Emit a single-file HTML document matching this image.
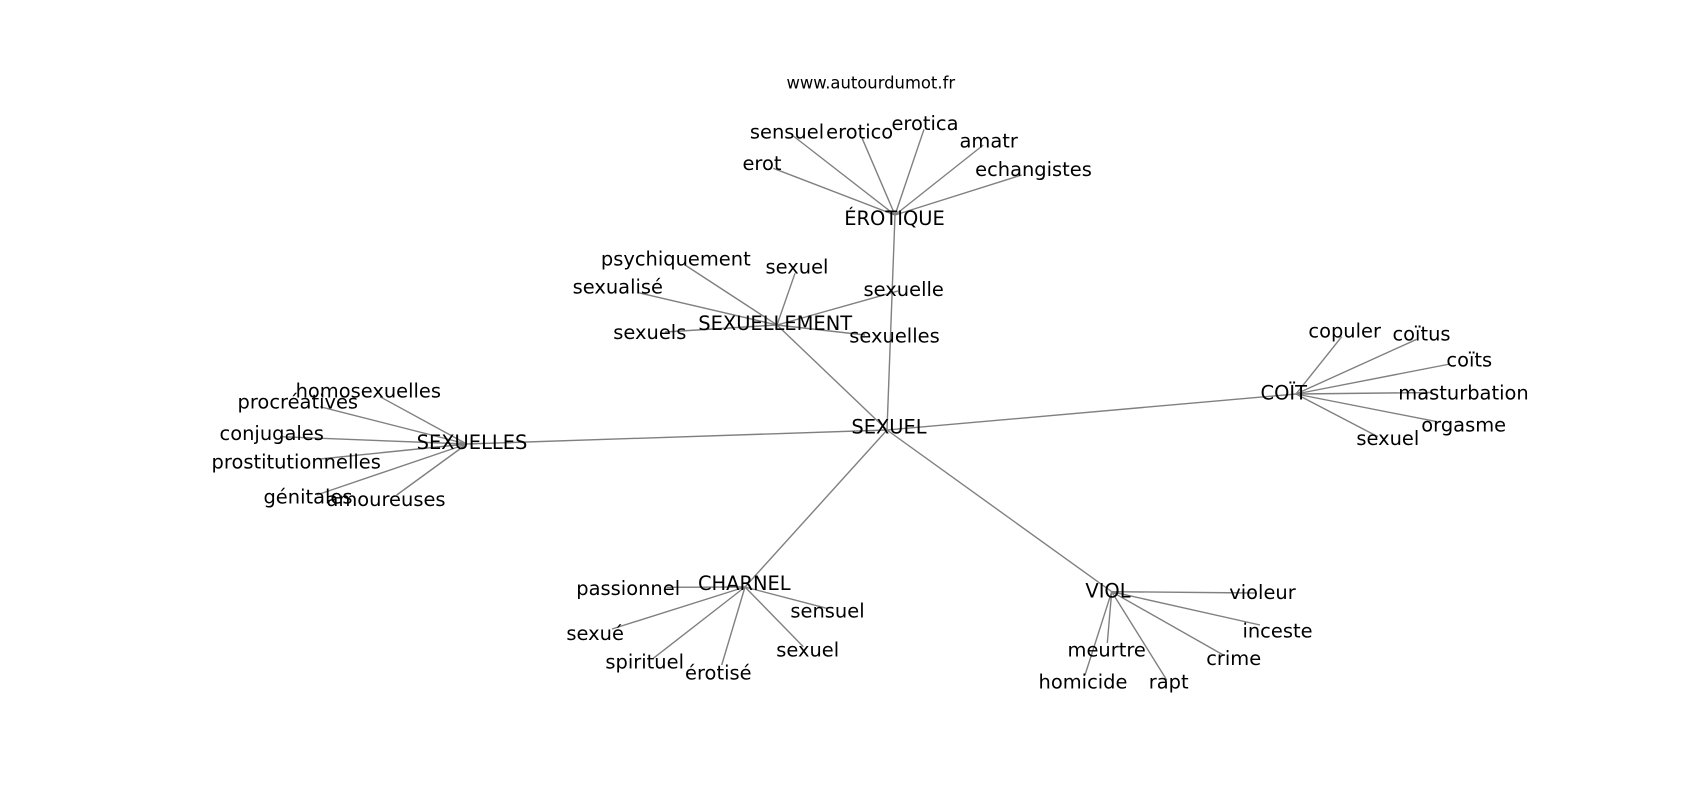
<!DOCTYPE html>
<html>
<head>
<meta charset="utf-8">
<style>
  html, body { margin: 0; padding: 0; background: #ffffff; }
  svg { display: block; }
  text { font-family: "DejaVu Sans", "Liberation Sans", sans-serif; fill: #000; }
  .lbl { font-size: 19.44px; text-anchor: middle; }
  .ttl { font-size: 16.4px; text-anchor: middle; }
  line { stroke: #808080; stroke-width: 1.4; }
</style>
</head>
<body>
<svg width="1700" height="800" viewBox="0 0 1700 800" xmlns="http://www.w3.org/2000/svg">
  <rect x="0" y="0" width="1700" height="800" fill="#ffffff"/>

  <!-- edges -->
  <g>
    <!-- hub edges -->
    <line x1="887" y1="430" x2="895" y2="215"/>
    <line x1="887" y1="430" x2="777" y2="325"/>
    <line x1="887" y1="430" x2="466.7" y2="444"/>
    <line x1="887" y1="430" x2="1296" y2="394"/>
    <line x1="887" y1="430" x2="745" y2="587"/>
    <line x1="887" y1="430" x2="1111.7" y2="591.7"/>

    <!-- ÉROTIQUE -->
    <line x1="895" y1="215" x2="773.3" y2="168.3"/>
    <line x1="895" y1="215" x2="793.3" y2="136"/>
    <line x1="895" y1="215" x2="861.7" y2="137.3"/>
    <line x1="895" y1="215" x2="924" y2="129.3"/>
    <line x1="895" y1="215" x2="983.3" y2="145"/>
    <line x1="895" y1="215" x2="1021.7" y2="175"/>

    <!-- SEXUELLEMENT -->
    <line x1="777" y1="325" x2="685" y2="265"/>
    <line x1="777" y1="325" x2="795" y2="273.3"/>
    <line x1="777" y1="325" x2="638.3" y2="292.7"/>
    <line x1="777" y1="325" x2="665" y2="332"/>
    <line x1="777" y1="325" x2="898" y2="291"/>
    <line x1="777" y1="325" x2="865" y2="335"/>

    <!-- SEXUELLES -->
    <line x1="466.7" y1="444" x2="380" y2="396.7"/>
    <line x1="466.7" y1="444" x2="320" y2="406.7"/>
    <line x1="466.7" y1="444" x2="280" y2="436.7"/>
    <line x1="466.7" y1="444" x2="320" y2="459"/>
    <line x1="466.7" y1="444" x2="316.7" y2="495"/>
    <line x1="466.7" y1="444" x2="396.7" y2="495"/>

    <!-- COÏT -->
    <line x1="1296" y1="394" x2="1341.7" y2="336.7"/>
    <line x1="1296" y1="394" x2="1416.7" y2="339.3"/>
    <line x1="1296" y1="394" x2="1450" y2="364"/>
    <line x1="1296" y1="394" x2="1433" y2="392.5"/>
    <line x1="1296" y1="394" x2="1437" y2="421.7"/>
    <line x1="1296" y1="394" x2="1378" y2="436.7"/>

    <!-- CHARNEL -->
    <line x1="745" y1="587" x2="666.7" y2="587.3"/>
    <line x1="745" y1="587" x2="612" y2="629"/>
    <line x1="745" y1="587" x2="653.3" y2="658.3"/>
    <line x1="745" y1="587" x2="721.7" y2="665"/>
    <line x1="745" y1="587" x2="803.3" y2="646.7"/>
    <line x1="745" y1="587" x2="826.7" y2="608.3"/>

    <!-- VIOL -->
    <line x1="1111.7" y1="591.7" x2="1255" y2="593"/>
    <line x1="1111.7" y1="591.7" x2="1260" y2="625"/>
    <line x1="1111.7" y1="591.7" x2="1223.3" y2="655"/>
    <line x1="1111.7" y1="591.7" x2="1107.3" y2="643"/>
    <line x1="1111.7" y1="591.7" x2="1085" y2="675"/>
    <line x1="1111.7" y1="591.7" x2="1166.7" y2="680"/>
  </g>

  <!-- title -->
  <text class="ttl" x="870.8" y="88.5">www.autourdumot.fr</text>

  <!-- labels -->
  <g>
    <text class="lbl" x="889" y="433.3">SEXUEL</text>

    <text class="lbl" x="894.5" y="225">ÉROTIQUE</text>
    <text class="lbl" x="762" y="170">erot</text>
    <text class="lbl" x="787" y="138.3">sensuel</text>
    <text class="lbl" x="859.7" y="138.3">erotico</text>
    <text class="lbl" x="925" y="130">erotica</text>
    <text class="lbl" x="988.7" y="147.3">amatr</text>
    <text class="lbl" x="1033.5" y="176">echangistes</text>

    <text class="lbl" x="775.2" y="330">SEXUELLEMENT</text>
    <text class="lbl" x="675.8" y="265.7">psychiquement</text>
    <text class="lbl" x="797" y="273.3">sexuel</text>
    <text class="lbl" x="617.8" y="293.3">sexualisé</text>
    <text class="lbl" x="649.8" y="339">sexuels</text>
    <text class="lbl" x="903.7" y="296">sexuelle</text>
    <text class="lbl" x="894.5" y="342.7">sexuelles</text>

    <text class="lbl" x="472" y="449">SEXUELLES</text>
    <text class="lbl" x="368.3" y="397.3">homosexuelles</text>
    <text class="lbl" x="297.8" y="408.3">procréatives</text>
    <text class="lbl" x="271.7" y="440">conjugales</text>
    <text class="lbl" x="296.2" y="468.3">prostitutionnelles</text>
    <text class="lbl" x="308" y="503.3">génitales</text>
    <text class="lbl" x="386" y="506">amoureuses</text>

    <text class="lbl" x="1283.8" y="399.3">COÏT</text>
    <text class="lbl" x="1344.7" y="337.3">copuler</text>
    <text class="lbl" x="1421.5" y="340.7">coïtus</text>
    <text class="lbl" x="1469.3" y="366.7">coïts</text>
    <text class="lbl" x="1463.5" y="399.3">masturbation</text>
    <text class="lbl" x="1463.7" y="431.7">orgasme</text>
    <text class="lbl" x="1387.8" y="445">sexuel</text>

    <text class="lbl" x="744.3" y="590">CHARNEL</text>
    <text class="lbl" x="628.2" y="595">passionnel</text>
    <text class="lbl" x="595.2" y="640">sexué</text>
    <text class="lbl" x="644.7" y="668.3">spirituel</text>
    <text class="lbl" x="718.3" y="679.3">érotisé</text>
    <text class="lbl" x="807.7" y="656.7">sexuel</text>
    <text class="lbl" x="827.5" y="617.3">sensuel</text>

    <text class="lbl" x="1108" y="597.3">VIOL</text>
    <text class="lbl" x="1262.5" y="599">violeur</text>
    <text class="lbl" x="1277.5" y="637.3">inceste</text>
    <text class="lbl" x="1233.7" y="665">crime</text>
    <text class="lbl" x="1106.7" y="656.7">meurtre</text>
    <text class="lbl" x="1083" y="688.3">homicide</text>
    <text class="lbl" x="1168.7" y="688.3">rapt</text>
  </g>
</svg>
</body>
</html>
